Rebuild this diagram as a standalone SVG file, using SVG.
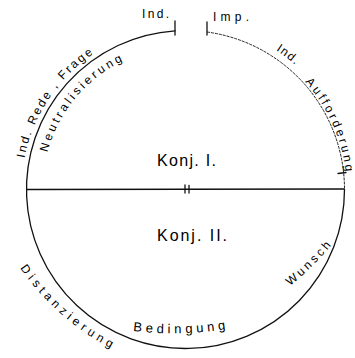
<svg xmlns="http://www.w3.org/2000/svg" width="355" height="358" viewBox="0 0 355 358">
  <style>
    .ln { fill: none; stroke: #111; stroke-width: 1.3; stroke-linecap: round; }
    .thin { fill: none; stroke: #222; stroke-width: 1; stroke-dasharray: 3 1; }
    .lb { font-family: "Liberation Sans", "DejaVu Sans", sans-serif; font-size: 12px; fill: #000; }
    .big { font-family: "Liberation Sans", "DejaVu Sans", sans-serif; font-size: 16px; fill: #000; }
  </style>
  <defs>
    <path id="p-rede" d="M 24.5 158.2 A 164 164 0 0 1 98.6 50.4"/>
    <path id="p-neutral" d="M 47.4 152.5 A 143 143 0 0 1 129.6 57.9"/>
    <path id="p-ind2" d="M 275.9 50.3 A 166 166 0 0 1 300.8 70.1"/>
    <path id="p-auff" d="M 305.1 81.8 A 161 161 0 0 1 346.4 195.1"/>
    <path id="p-dist" d="M 20 268 A 260 260 0 0 0 114 350"/>
    <path id="p-bed" d="M 133 331 A 350 350 0 0 0 227 329"/>
    <path id="p-wunsch" d="M 290 286 A 300 300 0 0 0 334 242"/>
  </defs>

  <g id="connectors">
    <path class="thin" d="M 207 32 A 159 159 0 0 1 344.5 189.5"/>
    <path class="ln" d="M 344.5 189.5 A 159 159 0 1 1 175 30.85"/>
    <line class="ln" x1="27" y1="189.5" x2="344" y2="189"/>
    <line class="ln" x1="175" y1="21" x2="175" y2="35"/>
    <line class="ln" x1="207" y1="22" x2="207" y2="35"/>
    <line class="ln" x1="185" y1="185" x2="185" y2="193"/>
    <line class="ln" x1="189" y1="185.5" x2="189" y2="193"/>
    <line class="ln" x1="338" y1="173.5" x2="346" y2="172.5"/>
  </g>

  <g id="ind-top"><text class="lb" x="142" y="18" textLength="27" lengthAdjust="spacing">Ind.</text></g>
  <g id="imp-top"><text class="lb" x="213" y="21" textLength="36" lengthAdjust="spacing">Imp.</text></g>

  <g id="ind-rede-frage"><text class="lb"><textPath href="#p-rede" textLength="128" lengthAdjust="spacing">Ind. Rede , Frage</textPath></text></g>
  <g id="neutralisierung"><text class="lb"><textPath href="#p-neutral" textLength="122" lengthAdjust="spacing">Neutralisierung</textPath></text></g>
  <g id="ind-aufforderung"><text class="lb"><textPath href="#p-ind2" textLength="24" lengthAdjust="spacing">Ind.</textPath></text><text class="lb"><textPath href="#p-auff" textLength="100" lengthAdjust="spacing">Aufforderung</textPath></text></g>

  <g id="konj1"><text class="big" x="157" y="166" textLength="59" lengthAdjust="spacing">Konj. I.</text></g>
  <g id="konj2"><text class="big" x="157" y="241" textLength="70" lengthAdjust="spacing">Konj. II.</text></g>

  <g id="distanzierung"><text class="lb"><textPath href="#p-dist" textLength="122" lengthAdjust="spacing">Distanzierung</textPath></text></g>
  <g id="bedingung"><text class="lb" style="font-size:13px"><textPath href="#p-bed" textLength="93" lengthAdjust="spacing">Bedingung</textPath></text></g>
  <g id="wunsch"><text class="lb"><textPath href="#p-wunsch" textLength="58" lengthAdjust="spacing">Wunsch</textPath></text></g>
</svg>
